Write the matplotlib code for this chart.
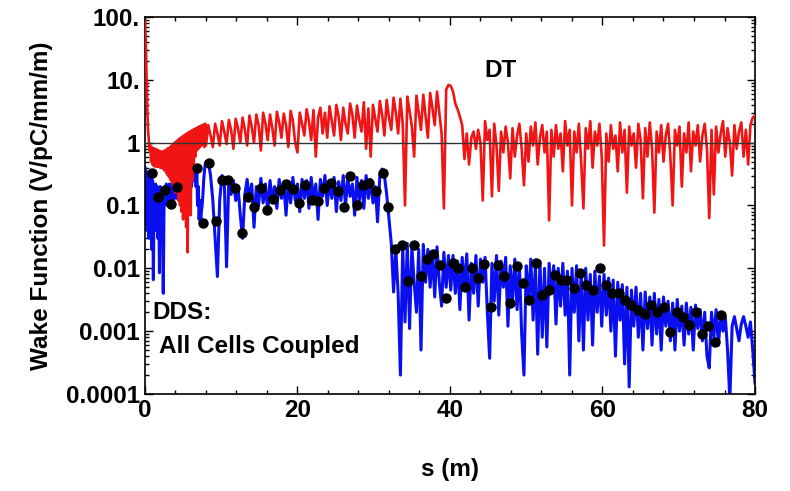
import numpy as np
import matplotlib
matplotlib.use("Agg")
import matplotlib.pyplot as plt
from matplotlib.ticker import LogLocator, FixedLocator, FixedFormatter, MultipleLocator

plt.rcParams['font.family'] = ['Liberation Sans', 'DejaVu Sans']
plt.rcParams['font.weight'] = 'bold'

# ---------------- data ----------------
# DT (red) wake, s = 0 .. 8 m (fine sampling)
dt_early = [85, 45, 12, 3.5, 1.6, 1.1, 0.75, 0.9, 0.5, 0.85, 0.45, 0.82, 0.42, 0.8,
            0.42, 0.78, 0.41, 0.76, 0.42, 0.74, 0.4, 0.72, 0.4, 0.72, 0.38, 0.74,
            0.36, 0.76, 0.33, 0.8, 0.3, 0.82, 0.28, 0.85, 0.25, 0.9, 0.22, 0.95,
            0.2, 1.0, 0.16, 1.05, 0.18, 1.1, 0.12, 1.15, 0.1, 1.2, 0.08, 1.25,
            0.06, 1.3, 0.09, 1.35, 0.045, 1.4, 0.018, 1.45, 0.1, 1.5, 0.07, 1.55,
            0.25, 1.6, 0.45, 1.65, 0.6, 1.7, 0.75, 1.75, 0.8, 1.8, 0.85, 1.85,
            0.9, 1.9, 0.95, 1.95, 0.85, 2.0, 0.9]
# DT (red) wake, s = 8.3 .. 40.1 m
dt_mid = [1.9, 1.3, 0.85, 2.0, 1.4, 0.9, 2.2, 1.5, 0.95, 2.3, 1.6, 0.8,
          2.4, 1.7, 1.0, 2.5, 1.6, 0.9, 2.7, 1.8, 1.0, 2.8, 1.9, 0.75,
          3.0, 2.0, 1.1, 2.8, 1.7, 0.9, 3.1, 2.1, 1.2, 2.9, 1.9, 0.85,
          3.2, 2.2, 1.0,
          0.7, 3.0, 2.0, 1.3, 3.4, 2.2, 1.1, 3.3, 0.6, 2.5, 3.6, 1.4,
          3.0, 1.2, 3.8, 2.2, 1.3, 4.0, 2.6, 1.1, 3.6, 2.0, 1.4, 4.2,
          2.8, 1.2, 3.9, 2.3, 1.5, 4.4, 0.8, 3.5, 0.6, 4.0,
          2.4, 1.5, 4.6, 2.8, 1.3, 4.8, 2.5, 1.6, 5.2, 3.0, 1.4, 5.0,
          2.0, 0.1, 5.4, 3.2, 1.8, 0.6, 5.6, 3.0, 1.6, 5.8, 2.6, 1.2,
          6.2, 3.5, 1.9, 6.5, 3.0, 1.4, 0.09, 7.0, 8.3, 8.0]
# DT (red) wake, s = 40.4 .. 80 m
dt_late = [6.5, 4.2, 3.4, 2.6, 1.9, 0.55, 1.4, 0.45, 1.2, 1.5, 0.8, 1.6,
           1.0, 0.12, 2.2, 1.1, 1.6, 0.14, 2.0, 0.9, 0.17, 1.5, 0.7, 1.8,
           1.0, 0.27, 1.7, 0.6, 1.3, 2.0, 0.8, 0.21, 1.4, 0.5, 1.8, 0.9,
           2.1, 0.45, 1.2, 1.9, 0.7, 1.5, 0.058, 1.6, 0.6, 1.9, 0.8, 1.4,
           0.35, 2.2, 0.9, 1.6, 0.1, 1.5, 0.7, 2.0, 0.5, 0.09, 1.7, 0.8,
           2.2, 0.4, 1.5, 0.9, 2.0, 0.6, 0.023, 1.4, 0.5, 1.9, 0.8, 1.3,
           0.35, 2.1, 0.7, 1.6, 0.16, 1.8, 0.9, 1.4, 0.4, 2.0, 1.1, 0.13,
           1.7, 0.6, 2.1, 0.8, 0.077, 1.5, 0.7, 1.9, 0.5, 1.3, 2.0, 0.6,
           0.1, 1.6, 0.9, 1.8, 0.2, 1.4, 0.7, 2.1, 0.35, 1.5, 0.9, 1.9,
           0.5, 1.3, 2.0, 0.8, 0.063, 1.6, 0.15, 1.8, 0.7, 1.4, 2.2, 0.6,
           1.7, 1.0, 0.3, 1.9, 0.8, 1.5, 2.1, 0.6, 1.6, 0.45, 1.9, 2.5, 2.7]

# DDS (blue) wake, s = 0 .. 8 m
dds_early = [0.4, 0.05, 0.35, 0.04, 0.3, 0.03, 0.28, 0.05, 0.3, 0.02, 0.25,
             0.0066, 0.2, 0.04, 0.22, 0.05, 0.2, 0.03, 0.15, 0.0085, 0.2, 0.05,
             0.18, 0.06, 0.004, 0.1, 0.2, 0.12, 0.22, 0.1, 0.2, 0.13, 0.22,
             0.1, 0.2, 0.14, 0.24, 0.12, 0.2, 0.15, 0.25, 0.13, 0.22, 0.15,
             0.24, 0.14, 0.22, 0.16, 0.25, 0.15, 0.22, 0.14, 0.24, 0.16, 0.22,
             0.12, 0.25, 0.15, 0.3, 0.18, 0.35, 0.2, 0.3, 0.25, 0.38, 0.3, 0.4,
             0.2, 0.35, 0.1, 0.2, 0.06, 0.12, 0.05, 0.08, 0.1, 0.15, 0.25,
             0.35, 0.45, 0.5]
# DDS (blue) wake, s = 8.3 .. 40.1 m
dds_mid = [0.5, 0.3, 0.12, 0.03, 0.0074, 0.12, 0.3, 0.25, 0.0106, 0.28, 0.15,
           0.25, 0.12, 0.2, 0.07, 0.03, 0.15, 0.26, 0.12, 0.22, 0.045, 0.2,
           0.1, 0.27, 0.11, 0.22, 0.08, 0.25, 0.12, 0.2, 0.09, 0.26, 0.13,
           0.22, 0.07, 0.24, 0.11, 0.28, 0.12, 0.22, 0.08, 0.26, 0.13, 0.25,
           0.09, 0.28, 0.12, 0.22, 0.06, 0.26, 0.14, 0.3, 0.1, 0.25, 0.13,
           0.28, 0.08, 0.24, 0.12, 0.3, 0.1, 0.27, 0.14, 0.22, 0.07, 0.28,
           0.12, 0.25, 0.09, 0.3, 0.13, 0.26, 0.11, 0.2, 0.055, 0.3, 0.38,
           0.3, 0.15, 0.06, 0.025, 0.0042, 0.02, 0.004, 0.0002, 0.022, 0.0014,
           0.025, 0.0011, 0.022, 0.006, 0.002, 0.02, 0.0005, 0.024, 0.006,
           0.02, 0.005, 0.018, 0.0035, 0.022, 0.006, 0.0025, 0.018, 0.005,
           0.016, 0.0045]
# DDS (blue) wake, s = 40.4 .. 80 m
dds_late = [0.016, 0.004, 0.013, 0.0022, 0.015, 0.005, 0.017, 0.0015, 0.012,
            0.004, 0.016, 0.0025, 0.014, 0.006, 0.015, 0.002, 0.00037, 0.012,
            0.003, 0.016, 0.0018, 0.013, 0.005, 0.015, 0.0012, 0.011, 0.003,
            0.014, 0.0022, 0.012, 0.0009, 0.0002, 0.011, 0.003, 0.014, 0.0015,
            0.012, 0.00043, 0.013, 0.0008, 0.01, 0.00056, 0.012, 0.004, 0.011,
            0.0013, 0.01, 0.0025, 0.012, 0.0018, 0.009, 0.0002, 0.01, 0.002,
            0.011, 0.0007, 0.009, 0.0005, 0.01, 0.0015, 0.008, 0.0006, 0.009,
            0.002, 0.0075, 0.0012, 0.008, 0.0018, 0.007, 0.001, 0.0065, 0.0004,
            0.006, 0.0015, 0.0055, 0.0003, 0.005, 0.00013, 0.0045, 0.0012,
            0.005, 0.0008, 0.004, 0.0005, 0.0042, 0.0011, 0.0035, 0.0006, 0.004,
            0.0009, 0.0032, 0.0005, 0.0035, 0.0012, 0.003, 0.0007, 0.0028,
            0.0005, 0.0032, 0.001, 0.0025, 0.0006, 0.0028, 0.0009, 0.0024,
            0.0005, 0.0026, 0.0011, 0.0022, 0.0007, 0.002, 0.0004, 0.00026,
            0.002, 0.0008, 0.0022, 0.0006, 0.0018, 0.001, 0.0017, 0.0005,
            0.00008, 0.0012, 0.0017, 0.0011, 0.0007, 0.0013, 0.0017, 0.0012,
            0.0008, 0.0014, 0.0005, 0.00015]

# DDS black dots (s, wake)
dot_s = [0.88, 1.75, 2.6, 3.37, 4.15, 6.8, 7.56, 8.44, 9.27, 10.05, 10.93, 11.8,
         12.7, 13.47, 14.33, 15.17, 15.95, 16.83, 17.7, 18.5, 19.37, 20.24,
         20.98, 21.86, 22.73, 23.5, 24.4, 25.27, 26.1, 26.9, 27.76, 28.63,
         29.4, 30.3, 31.17, 31.9, 32.8, 33.67, 34.45, 35.3, 36.15, 36.95,
         37.8, 38.7, 39.5, 40.35, 41.1, 41.97, 42.84, 43.7, 44.5, 45.4, 46.25,
         47.1, 47.9, 48.75, 49.6, 50.4, 51.3, 52.1, 52.98, 53.77, 54.6, 55.4,
         56.3, 57.1, 57.9, 58.8, 59.67, 60.46, 61.3, 62.16, 63.0, 63.8, 64.7,
         65.6, 66.36, 67.2, 68.1, 68.85, 69.73, 70.6, 71.4, 72.26, 73.1,
         73.87, 74.75, 75.6]
dot_w = [0.325, 0.138, 0.177, 0.106, 0.2, 0.39, 0.053, 0.47, 0.057, 0.255,
         0.25, 0.19, 0.036, 0.138, 0.096, 0.19, 0.085, 0.125, 0.177, 0.217,
         0.18, 0.108, 0.21, 0.122, 0.118, 0.19, 0.225, 0.17, 0.094, 0.29, 0.1,
         0.21, 0.225, 0.17, 0.325, 0.096, 0.020, 0.0235, 0.0063, 0.0235,
         0.0076, 0.0139, 0.0167, 0.0113, 0.0034, 0.0123, 0.01, 0.0051, 0.01,
         0.0071, 0.0116, 0.0024, 0.0113, 0.0075, 0.0028, 0.0109, 0.0058,
         0.0031, 0.012, 0.0037, 0.0045, 0.0078, 0.0065, 0.0065, 0.0048,
         0.0083, 0.0054, 0.0046, 0.01, 0.0054, 0.0041, 0.0041, 0.0031, 0.0026,
         0.0022, 0.00185, 0.0026, 0.002, 0.0024, 0.00098, 0.002, 0.0017,
         0.00125, 0.002, 0.00089, 0.0012, 0.00068, 0.0018]

x_ticks = [0, 20, 40, 60, 80]
y_ticks = [1e-4, 1e-3, 1e-2, 1e-1, 1, 10, 100]
y_tick_labels = ['0.0001', '0.001', '0.01', '0.1', '1', '10.', '100.']

# ---------------- figure ----------------
fig = plt.figure(figsize=(7.9, 4.91), dpi=100)
ax = fig.add_axes([0.1835, 0.1976, 0.7722, 0.7678])


def seg(vals, a, b):
    return np.linspace(a, b, len(vals))


s_dds = np.concatenate([seg(dds_early, 0, 8.0), seg(dds_mid, 8.3, 40.1), seg(dds_late, 40.4, 80.0)])
w_dds = np.concatenate([dds_early, dds_mid, dds_late])
s_dt = np.concatenate([seg(dt_early, 0, 8.0), seg(dt_mid, 8.3, 40.1), seg(dt_late, 40.4, 80.0)])
w_dt = np.concatenate([dt_early, dt_mid, dt_late])

ax.plot(s_dds, w_dds, color='#0a0ff0', lw=2.2, zorder=2)
ax.plot(s_dt, w_dt, color='#f01414', lw=1.9, zorder=3)
ax.axhline(1, color='#333333', lw=1.0, zorder=4)
ax.plot(dot_s, dot_w, 'o', color='black', ms=6.5, zorder=5)

ax.set_yscale('log')
ax.set_xlim(0, 80)
ax.set_ylim(1e-4, 100)

ax.xaxis.set_major_locator(FixedLocator(x_ticks))
ax.xaxis.set_minor_locator(MultipleLocator(4))
ax.yaxis.set_major_locator(FixedLocator(y_ticks))
ax.yaxis.set_major_formatter(FixedFormatter(y_tick_labels))
ax.yaxis.set_minor_locator(LogLocator(base=10, subs=np.arange(2, 10) * 1.0, numticks=20))
ax.yaxis.set_minor_formatter(plt.NullFormatter())

FS = 17.5
ax.tick_params(which='both', direction='in', top=True, right=True, labelsize=FS, width=1.0)
ax.tick_params(which='major', length=6)
ax.tick_params(which='minor', length=3)
for lab in ax.get_xticklabels() + ax.get_yticklabels():
    lab.set_fontweight('bold')
for sp in ax.spines.values():
    sp.set_linewidth(1.2)

ax.set_xlabel('s (m)', fontsize=FS, fontweight='bold', labelpad=26)
ax.set_ylabel('Wake Function (V/pC/mm/m)', fontsize=FS, fontweight='bold', labelpad=9)

ax.text(0.582, 0.859, 'DT', transform=ax.transAxes, fontsize=FS, fontweight='bold',
        ha='center', va='center')
ax.text(0.0115, 0.215, 'DDS:', transform=ax.transAxes, fontsize=FS, fontweight='bold',
        ha='left', va='center')
ax.text(0.023, 0.127, 'All Cells Coupled', transform=ax.transAxes, fontsize=FS,
        fontweight='bold', ha='left', va='center')

fig.savefig('out.png', dpi=100)
